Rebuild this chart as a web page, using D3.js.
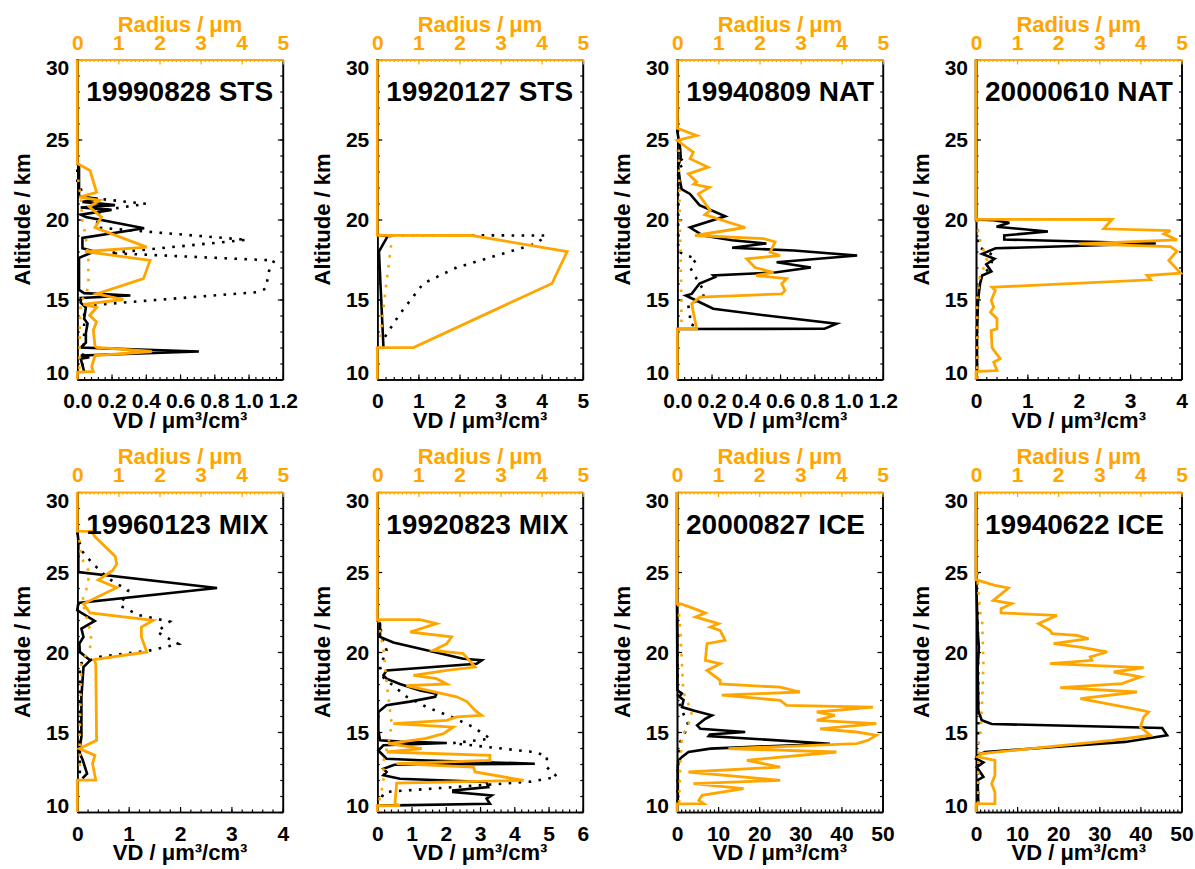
<!DOCTYPE html>
<html><head><meta charset="utf-8">
<script src="https://cdn.jsdelivr.net/npm/d3@7"></script>
<style>
body{margin:0;background:#fff}
svg{display:block}
text{font-family:"Liberation Sans",Arial,Helvetica,sans-serif;font-weight:bold}
</style></head>
<body><svg id="chart" width="1195" height="869"></svg>
<script>
// ---------------- DATA ----------------
const titles = ["19990828 STS","19920127 STS","19940809 NAT","20000610 NAT",
                "19960123 MIX","19920823 MIX","20000827 ICE","19940622 ICE"];
const vdMax = [1.2, 5, 1.2, 4, 4, 6, 50, 50];
const vdMajor = [0.2, 1, 0.2, 1, 1, 1, 10, 10];
const vdMinorPerMajor = [5, 5, 5, 5, 5, 5, 10, 10];
const altTicks = [10, 15, 20, 25, 30];
const radiusTicks = [0, 1, 2, 3, 4, 5];

// each series: [altitude km, value]
// Panel 1: 19990828 STS
const vd_p1 = [[30,0],[23.5,0],[23.3,0.01],[21.45,0.01],[21.3,0.12],[21.1,0.03],[20.9,0.22],[20.75,0.02],[20.6,0.2],[20.3,0.02],[20.15,0.05],[19.45,0.39],[18.85,0.03],[18.2,0.03],[18.0,0.1],[17.6,0.01],[15.6,0.01],[15.4,0.04],[15.25,0.31],[15.1,0.02],[14.8,0.02],[14.5,0.05],[13.8,0.04],[13.5,0.06],[12.9,0.05],[12.3,0.05],[12.0,0.02],[11.75,0.71],[11.5,0.02],[11.4,0.07],[11.3,0.02],[10.5,0.04]];
const vdDot_p1 = [[30,0],[22.3,0],[22.0,0.02],[21.4,0.03],[20.98,0.40],[20.55,0.13],[19.5,0.11],[18.73,0.99],[17.9,0.19],[17.44,1.15],[16.8,1.12],[15.67,1.1],[15.46,1.05],[14.83,0.29],[14.6,0.04],[12.85,0.04],[10.8,0.03]];
const rad_p1 = [[30,0],[23.5,0],[23.06,0.31],[21.7,0.47],[21.4,0.05],[21.2,0.55],[20.8,0.29],[20.15,0.59],[19.5,0.43],[18.27,1.69],[18.0,0.19],[17.44,1.77],[16.3,1.61],[15.35,0.47],[15.0,1.12],[14.7,0.15],[14.5,0.47],[14.0,0.3],[13.6,0.47],[13.1,0.39],[12.1,0.43],[12.0,0.47],[11.75,1.81],[11.5,0.43],[10.8,0.35],[10.5,0.39],[10.45,0],[10,0]];
const radDot_p1 = [[22.5,0.02],[21.5,0.08],[20,0.12],[19,0.2],[18,0.25],[17.5,0.27],[16,0.27],[15.3,0.22],[14.9,0.08],[13,0.06],[11,0.05],[10.3,0.05]];

// Panel 2: 19920127 STS
const vd_p2 = [[30,0],[19.05,0],[18.95,0.25],[18.0,0.04],[12.0,0.15]];
const vdDot_p2 = [[30,0],[19.02,0],[19.0,4.1],[18.5,3.88],[17.0,1.93],[16.0,1.12],[14.1,0.55],[12.85,0.23],[12.3,0.1]];
const rad_p2 = [[30,0],[19.01,0],[19.0,2.3],[18.0,4.62],[16.0,4.25],[12.0,0.88],[11.99,0],[10,0]];
const radDot_p2 = [[19.0,0.3],[18.7,0.35],[15.35,0.19],[12.2,0.06]];

// Panel 3: 19940809 NAT
const vd_p3 = [[30,0],[25.5,0],[24.5,0.016],[23.9,0.02],[23.3,0.005],[22.4,0.016],[21.9,0.025],[21.6,0.074],[20.9,0.13],[20.2,0.28],[19.5,0.074],[19.0,0.15],[18.7,0.32],[18.5,0.52],[18.23,0.32],[18.06,0.68],[17.75,1.05],[17.33,0.58],[17.0,0.78],[16.7,0.58],[16.5,0.21],[16.4,0.22],[16.0,0.13],[15.35,0.084],[15.25,0.05],[14.94,0.11],[14.42,0.21],[14.0,0.52],[13.48,0.93],[13.17,0.86],[13.16,0]];
const vdDot_p3 = [[30,0],[24,0.005],[23.5,0.045],[23.2,0.005],[18,0.005],[17.75,0.055],[17.54,0.113],[17.02,0.074],[16.29,0.113],[15.46,0.16],[15.15,0.15],[14.63,0.064],[14.0,0.074],[13.48,0.074],[13.23,0.13]];
const rad_p3 = [[30,0],[25.7,0],[25.25,0.47],[24.94,0],[24.5,0.23],[24.2,0.39],[23.8,0.31],[23.27,0.75],[22.85,0.27],[22.35,0.47],[22.2,0.4],[22.0,0.78],[21.6,0.51],[20.56,0.8],[20.3,0.67],[19.5,1.65],[19.0,0.43],[18.8,2.1],[18.6,2.38],[17.96,2.26],[17.75,2.5],[17.54,1.69],[17.0,1.89],[16.7,2.34],[16.5,1.92],[16.3,2.66],[15.98,2.54],[15.56,2.62],[15.35,2.54],[15.15,0.55],[14.73,0.35],[13.17,0.47],[13.16,0],[10,0]];
const radDot_p3 = [[25,0.03],[22,0.05],[20,0.06],[18,0.08],[16,0.09],[14,0.1],[13.2,0.1]];

// Panel 4: 20000610 NAT
const vd_p4 = [[30,0],[20.0,0],[19.95,0.35],[19.8,0.65],[19.55,0.4],[19.25,1.4],[19.0,0.55],[18.75,0.55],[18.5,3.5],[18.2,0.38],[17.85,0.12],[17.55,0.36],[17.2,0.2],[16.75,0.3],[16.5,0.12],[16.0,0.08],[15.0,0.04],[12.85,0.02],[10.5,0.02]];
const vdDot_p4 = [[20,0.02],[18.3,0.05],[17.75,0.34],[17.0,0.28],[16.5,0.1],[16,0.05],[14,0.02],[10,0.02]];
const rad_p4 = [[30,0],[20.01,0],[20.0,3.31],[19.42,3.11],[19.3,4.73],[19.1,4.57],[18.73,4.89],[18.48,2.5],[18.3,4.73],[18.02,4.89],[17.44,4.69],[16.65,4.98],[16.5,4.16],[16.23,4.25],[15.77,0.39],[15.56,0.47],[14.94,0.37],[14.52,0.43],[14.2,0.35],[13.8,0.51],[13.17,0.51],[13.06,0.37],[12.0,0.39],[11.6,0.5],[11.3,0.59],[11.08,0.43],[10.56,0.51],[10.5,0],[10,0]];
const radDot_p4 = [[20,0.03],[19,0.06],[17.44,0.27],[16.5,0.1],[15,0.03],[10,0.03]];

// Panel 5: 19960123 MIX
const vd_p5 = [[30,0],[27.6,0],[27,0.02],[25,0.02],[24.0,2.72],[23.06,0.02],[22.6,0],[21.94,0.34],[21.46,0.08],[20.94,0.12],[20.52,0.04],[20.0,0.05],[19.48,0.25],[19.06,0.12],[17.2,0.08],[14.7,0.08],[14.06,0.05],[13.85,0.02],[13.3,0.1],[12.4,0.19],[12.1,0.1]];
const vdDot_p5 = [[27.5,0],[26.35,0.08],[25.6,0.28],[24.6,0.6],[23.85,0.99],[22.9,0.83],[22.3,1.2],[21.9,1.8],[21.25,1.55],[20.5,1.97],[20.1,1.42],[19.7,0.44],[19.27,0.05],[13.0,0.05],[12.3,0.05]];
const rad_p5 = [[30,0],[27.55,0],[27.54,0.35],[27.2,0.43],[25.98,0.92],[25.5,0.96],[25.1,0.86],[24.5,0.51],[24.02,0.96],[23.02,0.15],[22.44,0.31],[21.98,1.85],[21.56,1.56],[20.94,1.56],[20.0,1.69],[19.52,0.41],[19.27,0.45],[14.48,0.47],[13.96,0.05],[13.54,0.43],[13.02,0.37],[12.0,0.45],[11.99,0],[10,0]];
const radDot_p5 = [[27,0.05],[25.9,0.1],[25.1,0.27],[24.3,0.27],[23.2,0.12],[21.35,0.31],[20.5,0.35],[19.27,0.1],[15,0.06],[12.4,0.06]];

// Panel 6: 19920823 MIX
const vd_p6 = [[30,0],[22.0,0],[21.77,0.08],[20.94,0.08],[20.6,0.47],[19.58,2.51],[19.48,3.05],[19.27,2.9],[18.85,0.27],[18.54,0.18],[18.33,0.27],[18.0,0.66],[17.6,1.25],[17.4,1.73],[17.2,1.69],[16.9,0.95],[16.67,0.27],[16.25,0.03],[15.1,0.03],[14.48,0.08],[14.4,0.66],[14.31,2.03],[14.17,0.18],[13.85,0.03],[13.33,0.27],[13.23,1.25],[13.02,4.6],[12.95,0.5],[12.7,0.18],[12.5,0.27],[12.3,0.18],[12.08,0.66],[11.88,3.19],[11.56,3.24],[11.35,2.22],[11.25,2.22],[11.04,3.34],[10.83,3.19],[10.52,3.29],[10.4,0.08]];
const vdDot_p6 = [[22,0],[21.77,0.08],[20.94,0.13],[20.1,0.27],[19.06,0.08],[18.4,0.18],[17.2,0.86],[16.56,1.44],[15.94,2.17],[15.31,2.8],[14.58,3.3],[14.3,2.2],[13.75,4.56],[13.5,4.95],[12.8,4.95],[12.2,5.25],[11.9,4.5],[11.25,0.22],[10.94,0.13],[10.5,0.1]];
const rad_p6 = [[30,0],[22.03,0],[22.02,1.04],[21.77,1.44],[21.25,0.8],[20.94,1.81],[20.52,1.69],[20.1,1.36],[19.9,2.09],[19.06,2.38],[18.85,1.69],[18.54,0.88],[18.33,1.44],[18.0,1.69],[17.9,0.71],[17.2,1.93],[16.9,2.18],[16.35,2.38],[16.04,2.54],[15.94,1.93],[15.73,1.69],[15.52,0.39],[15.31,1.85],[14.9,1.61],[14.58,1.16],[14.27,0.27],[13.96,1.08],[13.75,0.23],[13.54,2.74],[13.23,2.74],[13.02,0.47],[12.81,2.34],[12.5,2.38],[11.98,3.56],[11.81,0.47],[10.52,0.43],[10.4,0.55],[10.39,0],[10,0]];
const radDot_p6 = [[22,0.03],[21.5,0.06],[20.1,0.15],[18,0.23],[15.5,0.35],[14.27,0.27],[13.2,0.15],[11.8,0.15],[10.9,0.06],[10.5,0.05]];

// Panel 7: 20000827 ICE
const vd_p7 = [[30,0],[23,0],[17.6,0.1],[17.4,1.2],[17.2,0.6],[17.0,1.6],[16.56,1.2],[16.35,4.0],[16.04,8.5],[15.83,6.9],[15.42,4.9],[15.2,5.7],[15.0,16.6],[14.85,8],[14.75,7.7],[14.27,37.2],[13.96,8.1],[13.75,2.8],[13.44,1.2],[13.23,0.4],[12.9,0.2],[10.5,0.2]];
const vdDot_p7 = [[23,0.1],[17,0.2],[16.35,1.2],[15.42,2.8],[15.0,2.0],[14.38,0.8],[13.6,0.4],[13,0.2],[10.5,0.1]];
const rad_p7 = [[30,0],[23.01,0],[23.0,0.1],[22.6,0.53],[22.44,0.69],[22.19,0.45],[21.77,1.01],[21.56,0.81],[21.35,1.05],[20.73,1.17],[20.52,0.73],[19.48,0.69],[19.27,1.05],[18.85,0.73],[18.23,1.05],[18.0,1.05],[17.8,2.51],[17.5,2.99],[17.3,1.09],[16.98,2.51],[16.67,2.67],[16.56,4.77],[16.25,3.4],[16.04,3.84],[15.73,3.4],[15.52,4.85],[15.2,3.48],[15.0,4.37],[14.8,4.85],[14.48,4.65],[14.27,4.37],[13.96,1.25],[13.75,3.88],[13.23,1.7],[12.81,2.51],[12.5,0.28],[11.98,2.51],[11.77,0.4],[11.46,1.62],[11.04,0.61],[10.73,0.53],[10.52,0.65],[10.51,0],[10,0]];
const radDot_p7 = [[23,0.03],[21.35,0.08],[19.27,0.12],[17.5,0.15],[16.25,0.36],[15.5,0.28],[14.7,0.12],[13,0.08],[10.5,0.05]];

// Panel 8: 19940622 ICE
const vd_p8 = [[30,0],[25,0],[21.35,0.4],[20.3,0.7],[19,0.4],[16.35,0.57],[15.73,1.4],[15.5,3.8],[15.25,45.3],[14.8,46.5],[14.38,36.3],[13.75,2.2],[13.54,0.4],[13.33,0],[13.1,1.8],[12.8,0.2],[12.2,1.8],[12.0,0.4],[10.5,0.57]];
const vdDot_p8 = [[25,0.3],[20,0.5],[16,0.6],[14,0.5],[10.5,0.5]];
const rad_p8 = [[30,0],[24.5,0],[24.48,0.06],[24.17,0.46],[24.0,0.79],[23.23,0.42],[23.02,0.87],[22.71,0.61],[22.44,0.61],[22.29,1.97],[21.77,1.52],[21.35,1.8],[21.15,1.85],[21.04,2.46],[20.83,2.74],[20.52,1.89],[20.31,2.54],[20.0,3.19],[19.69,2.78],[19.48,2.82],[19.27,1.8],[19.02,4.08],[18.75,3.35],[18.44,4.0],[18.02,3.55],[17.77,2.05],[17.5,3.92],[17.08,2.54],[16.35,4.04],[16.25,4.2],[15.94,4.08],[15.31,4.0],[14.8,4.24],[14.48,3.31],[13.65,0.14],[13.45,0.05],[13.23,0.46],[12.29,0.46],[11.77,0.38],[11.25,0.46],[10.52,0.46],[10.51,0],[10,0]];
const radDot_p8 = [[25,0.02],[22.5,0.1],[22,0.15],[19.27,0.18],[17,0.15],[15.1,0.12],[14.27,0.06],[10.5,0.05]];

const vdSeries = [vd_p1, vd_p2, vd_p3, vd_p4, vd_p5, vd_p6, vd_p7, vd_p8];
const vdDotSeries = [vdDot_p1, vdDot_p2, vdDot_p3, vdDot_p4, vdDot_p5, vdDot_p6, vdDot_p7, vdDot_p8];
const radSeries = [rad_p1, rad_p2, rad_p3, rad_p4, rad_p5, rad_p6, rad_p7, rad_p8];
const radDotSeries = [radDot_p1, radDot_p2, radDot_p3, radDot_p4, radDot_p5, radDot_p6, radDot_p7, radDot_p8];

// ---------------- LAYOUT ----------------
const ORANGE = "#ffa500";
const W = 205.5, H = 320;
const colLeft = [[77.3, 377.3, 677.3, 976], [77.3, 377.3, 677, 976]];
const rowTop = [59.5, 492];
const FONT = "'Liberation Sans', Arial, Helvetica, sans-serif";

const svg = d3.select("#chart");

titles.forEach((title, i) => {
  const row = Math.floor(i / 4), col = i % 4;
  const left = colLeft[row][col], top = rowTop[row];
  const bottom = top + H, right = left + W;

  const y = d3.scaleLinear().domain([10, 30]).range([bottom, top]);
  const xv = d3.scaleLinear().domain([0, vdMax[i]]).range([left, right]);
  const xr = d3.scaleLinear().domain([0, 5]).range([left, right]);

  const g = svg.append("g");
  const styleAxis = (sel, color, size) => {
    sel.attr("color", color).attr("font-family", FONT).attr("font-weight", "bold").attr("font-size", size);
    sel.select(".domain").attr("stroke-width", 1.6);
    sel.selectAll(".tick line").attr("stroke-width", 1.2);
  };

  // bottom VD axis
  const nMaj = Math.round(vdMax[i] / vdMajor[i]);
  const majVals = d3.range(nMaj + 1).map(k => +(k * vdMajor[i]).toFixed(6));
  const minStep = vdMajor[i] / vdMinorPerMajor[i];
  const minVals = d3.range(Math.round(vdMax[i] / minStep) + 1).map(k => +(k * minStep).toFixed(6));
  const fmt = vdMajor[i] < 1 ? d3.format(".1f") : d3.format("d");
  g.append("g").attr("transform", `translate(0,${bottom})`)
    .call(d3.axisBottom(xv).tickValues(minVals).tickSizeInner(-2.5).tickSizeOuter(0).tickFormat(""))
    .call(s => styleAxis(s, "#000", 21));
  g.append("g").attr("transform", `translate(0,${bottom})`)
    .call(d3.axisBottom(xv).tickValues(majVals).tickSizeInner(-5).tickSizeOuter(0).tickPadding(14).tickFormat(fmt))
    .call(s => styleAxis(s, "#000", 21));

  // right altitude axis
  g.append("g").attr("transform", `translate(${right},0)`)
    .call(d3.axisRight(y).tickValues(d3.range(10, 31, 1)).tickSizeInner(-2.5).tickSizeOuter(0).tickFormat(""))
    .call(s => styleAxis(s, "#000", 21));
  g.append("g").attr("transform", `translate(${right},0)`)
    .call(d3.axisRight(y).tickValues(altTicks).tickSizeInner(-5).tickSizeOuter(0).tickFormat(""))
    .call(s => styleAxis(s, "#000", 21));

  // left altitude axis
  g.append("g").attr("transform", `translate(${left},0)`)
    .call(d3.axisLeft(y).tickValues(d3.range(10, 31, 1)).tickSizeInner(-2.5).tickSizeOuter(0).tickFormat(""))
    .call(s => styleAxis(s, "#000", 21));
  const la = g.append("g").attr("transform", `translate(${left},0)`)
    .call(d3.axisLeft(y).tickValues(altTicks).tickSizeInner(-5).tickSizeOuter(0).tickPadding(8))
    .call(s => styleAxis(s, "#000", 21));
  la.selectAll(".tick text").attr("dy", d => d === 30 ? "0.72em" : d === 10 ? "0em" : "0.35em");

  // top radius axis (orange)
  g.append("g").attr("transform", `translate(0,${top})`)
    .call(d3.axisTop(xr).tickValues(d3.range(0, 51).map(k => k / 10)).tickSizeInner(-2.5).tickSizeOuter(0).tickFormat(""))
    .call(s => styleAxis(s, ORANGE, 21));
  g.append("g").attr("transform", `translate(0,${top})`)
    .call(d3.axisTop(xr).tickValues(radiusTicks).tickSizeInner(-5).tickSizeOuter(0).tickPadding(10).tickFormat(d3.format("d")))
    .call(s => styleAxis(s, ORANGE, 21));

  // axis titles
  g.append("text").attr("x", (left + right) / 2).attr("y", top - 28)
    .attr("text-anchor", "middle").attr("font-size", 22).attr("fill", ORANGE)
    .text("Radius / μm");
  g.append("text").attr("x", (left + right) / 2).attr("y", bottom + 48)
    .attr("text-anchor", "middle").attr("font-size", 22).attr("fill", "#000")
    .text("VD / μm³/cm³");
  g.append("text")
    .attr("transform", `translate(${left - 47.5},${(top + bottom) / 2}) rotate(-90)`)
    .attr("text-anchor", "middle").attr("font-size", 22).attr("fill", "#000")
    .text("Altitude / km");

  // data lines
  const lineV = d3.line().x(d => xv(d[1])).y(d => y(d[0]));
  const lineR = d3.line().x(d => xr(d[1])).y(d => y(d[0]));
  const dl = g.append("g").attr("fill", "none").attr("stroke-linejoin", "miter");
  dl.append("path").datum(vdDotSeries[i]).attr("d", lineV)
    .attr("stroke", "#000").attr("stroke-width", 2.6).attr("stroke-dasharray", "2.6,7.4");
  dl.append("path").datum(vdSeries[i]).attr("d", lineV)
    .attr("stroke", "#000").attr("stroke-width", 2.6);
  dl.append("path").datum(radDotSeries[i]).attr("d", lineR)
    .attr("stroke", ORANGE).attr("stroke-width", 2.6).attr("stroke-dasharray", "2.6,7.4");
  dl.append("path").datum(radSeries[i]).attr("d", lineR)
    .attr("stroke", ORANGE).attr("stroke-width", 2.8);

  // panel title
  g.append("text").attr("x", left + 9).attr("y", top + 41.5)
    .attr("font-size", 28).attr("fill", "#000").text(title);
});
</script></body></html>
